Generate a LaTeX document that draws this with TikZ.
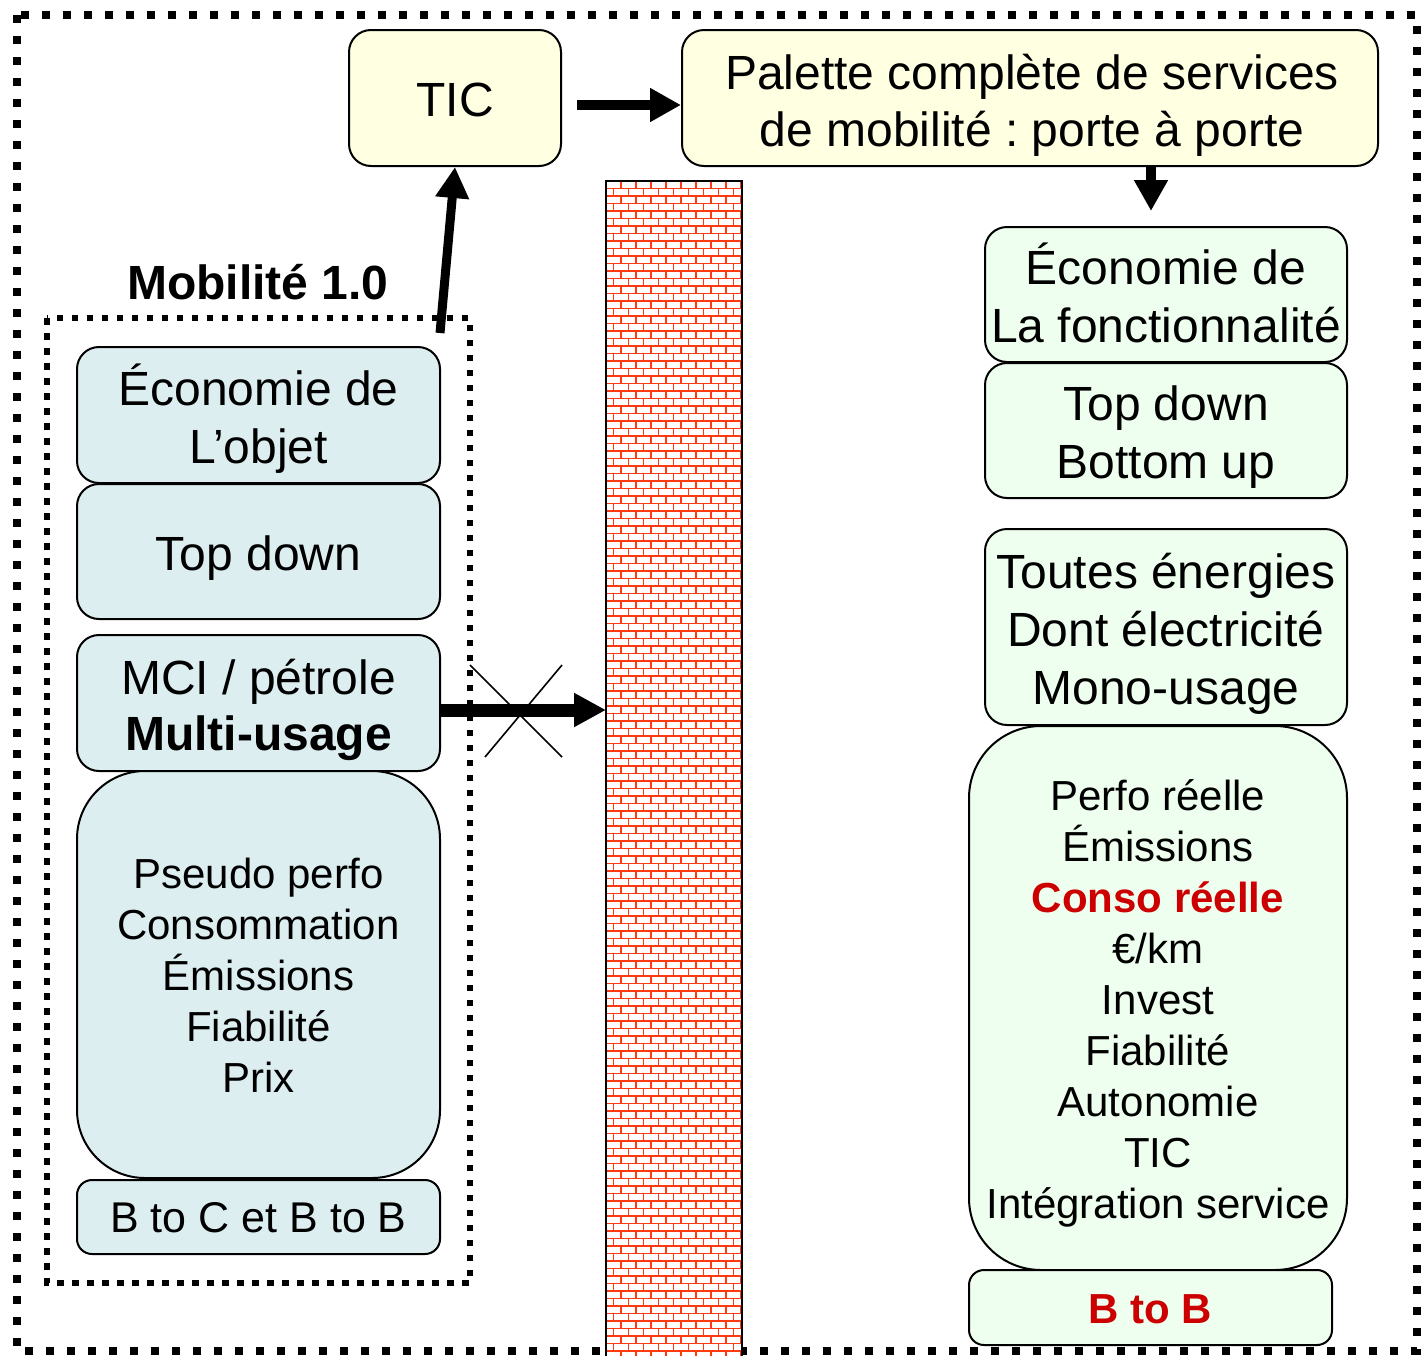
\documentclass[tikz,border=0pt]{standalone}
\usepackage{fontspec}
\setmainfont{Liberation Sans}
\frenchspacing
\usetikzlibrary{arrows.meta}
\definecolor{boxblue}{HTML}{DDEEF1}
\definecolor{boxyellow}{HTML}{FFFFE1}
\definecolor{boxgreen}{HTML}{EFFFEF}
\definecolor{txtred}{HTML}{CC0000}
\definecolor{brickred}{HTML}{FF3A10}
\tikzset{
  box/.style={draw, line width=2pt, rounded corners=22pt, inner sep=0pt},
  bluebox/.style={box, fill=boxblue, minimum width=363pt},
  greenbox/.style={box, fill=boxgreen, minimum width=362pt},
  yellowbox/.style={box, fill=boxyellow, minimum height=136pt},
  txt/.style={align=center, inner sep=0pt, font=\fontsize{48}{58}\selectfont},
  smalltxt/.style={align=center, inner sep=0pt, font=\fontsize{42}{51}\selectfont},
  bigarrow/.style={line width=10pt, -{Triangle[length=31pt,width=32pt]}},
  brick/.style={draw=brickred, line width=1.8pt},
  outerdots/.style={line width=8pt, dash pattern=on 8pt off 13pt},
  innerdots/.style={line width=6.5pt, dash pattern=on 6.5pt off 8.5pt},
}
\begin{document}
\begin{tikzpicture}[x=1pt,y=-1pt]
\useasboundingbox (0,0) rectangle (1421,1355);
\fill[white] (0,0) rectangle (1421,1355);

% outer dotted frame
\draw[outerdots] (17,15) rectangle (1417,1351);

% brick wall
\begin{scope}
  \clip (606,181) rectangle (742,1355);
  \fill[white] (606,181) rectangle (742,1355);
  \foreach \i in {0,...,157} {
    \draw[brick] (606,181+\i*7.5) -- (742,181+\i*7.5);
  }
  \foreach \i in {0,...,156} {
    \foreach \j in {0,...,9} {
      \draw[brick] ({606+mod(\i,2)*7.5+\j*15},{181+\i*7.5}) -- ++(0,7.5);
    }
  }
\end{scope}
\draw[line width=2.5pt] (606,1356) -- (606,181) -- (742,181) -- (742,1356);
\coordinate (wallhit) at (606,710);

% inner dotted frame
\draw[innerdots] (47,318) rectangle (470,1283);
\node[txt, font=\fontsize{48}{58}\selectfont\bfseries] (mob) at (258,282) {Mobilité 1.0};

% top boxes
\node[yellowbox, minimum width=212pt] (tic) at (455,98) {};
\node[txt] (tic-t) at ([yshift=-2pt]tic.center) {TIC};
\node[yellowbox, minimum width=696pt] (pal) at (1030,98) {};
\node[txt, font=\fontsize{48}{57}\selectfont] (pal-t) at ([yshift=-7pt,xshift=2pt]pal.center) {Palette complète de services\\de mobilité : porte à porte};

% left boxes
\node[bluebox, minimum height=136pt] (objet) at (258.5,415) {};
\node[txt] (objet-t) at ([yshift=-4pt]objet.center) {Économie de\\L’objet};
\node[bluebox, minimum height=135pt] (tdl) at (258.5,551.5) {};
\node[txt] (tdl-t) at ([yshift=-7pt]tdl.center) {Top down};
\node[bluebox, minimum height=136pt] (mci) at (258.5,703) {};
\node[txt, font=\fontsize{48}{56}\selectfont] (mci-t) at ([yshift=-7pt]mci.center) {MCI / pétrole\\\textbf{Multi-usage}};
\node[bluebox, rounded corners=68pt, minimum height=407pt] (pseudo) at (258.5,974.5) {};
\node[smalltxt] (pseudo-t) at ([yshift=-1pt]pseudo.center) {Pseudo perfo\\Consommation\\Émissions\\Fiabilité\\Prix};
\node[bluebox, rounded corners=15pt, minimum height=74pt] (btc) at (258.5,1217) {};
\node[txt, font=\fontsize{43}{52}\selectfont] (btc-t) at ([yshift=-1pt]btc.center) {B to C et B to B};

% right boxes
\node[greenbox, minimum height=135pt] (fonc) at (1166,294.5) {};
\node[txt] (fonc-t) at ([yshift=2pt]fonc.center) {Économie de\\La fonctionnalité};
\node[greenbox, minimum height=135pt] (tdr) at (1166,430.5) {};
\node[txt] (tdr-t) at ([yshift=-7pt]tdr.center) {Top down\\Bottom up};
\node[greenbox, minimum height=196pt] (ener) at (1166,627) {};
\node[txt] (ener-t) at ([yshift=-7pt]ener.center) {Toutes énergies\\Dont électricité\\Mono-usage};
\node[box, fill=boxgreen, rounded corners=72pt, minimum width=378pt, minimum height=544pt] (perf) at (1158,998) {};
\node[smalltxt] (perf-t) at ([yshift=-5pt]perf.center)
  {Perfo réelle\\Émissions\\\textcolor{txtred}{\textbf{Conso réelle}}\\€/km\\Invest\\Fiabilité\\Autonomie\\TIC\\Intégration service};
\node[box, fill=boxgreen, rounded corners=15pt, minimum width=363pt, minimum height=75pt] (btb) at (1150.5,1307.5) {};
\node[smalltxt] (btb-t) at ([yshift=-2pt]btb.center) {\textcolor{txtred}{\textbf{B to B}}};

% arrows
\coordinate (ticstart) at (577,105);
\draw[bigarrow] (ticstart) -- (pal.west |- ticstart);
\coordinate (upstart) at (440,333);
\draw[bigarrow, line width=9pt] (upstart) -- (tic.south);
\coordinate (downstart) at (1151,166);
\coordinate (downend) at (1151,211);
\draw[bigarrow] (downstart) -- (downend);
\draw[bigarrow, line width=13pt, -{Triangle[length=32pt,width=32pt]}] (mci.east |- wallhit) -- (wallhit);

% cross
\draw[line width=1.6pt] (470,665) -- (562,757);
\draw[line width=1.6pt] (562,665) -- (485,757);
\end{tikzpicture}
\end{document}
